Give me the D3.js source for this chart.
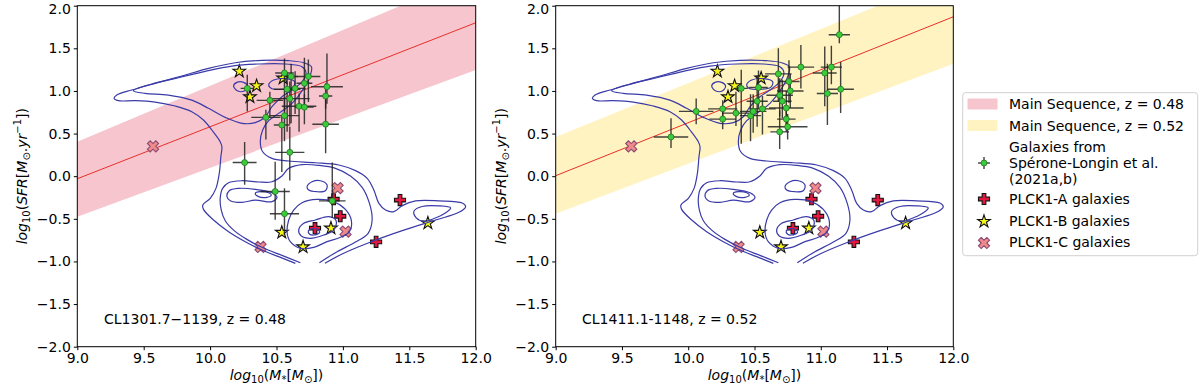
<!DOCTYPE html>
<html>
<head>
<meta charset="utf-8">
<script src="https://cdn.jsdelivr.net/npm/d3@7"></script>
<style>
  body { margin: 0; background: #fff; }
  text { font-family: "DejaVu Sans", sans-serif; }
</style>
</head>
<body>
<svg id="chart" width="1200" height="388"></svg>
<script>
// ---- data ----
const xTicks = [9.0, 9.5, 10.0, 10.5, 11.0, 11.5, 12.0];
const yTicks = [-2.0, -1.5, -1.0, -0.5, 0.0, 0.5, 1.0, 1.5, 2.0];

// main sequence [mass, lower, mid, upper]
const msLeft  = [[9, -0.475, -0.03, 0.405], [12, 1.246, 1.80, 2.37]];
const msRight = [[9, -0.44, 0.006, 0.46], [12, 1.32, 1.87, 2.36]];

// Sperone-Longin galaxies [mass, sfr, xerr, yerr-, yerr+]
const greenLeft = [
  [10.28,1.03,0.05,0.27,0.16],[10.56,1.21,0.07,0.45,0.17],[10.61,1.17,0.05,0.55,0.15],
  [10.74,1.17,0.09,0.30,0.20],[10.58,1.02,0.10,0.50,0.20],[10.64,1.03,0.08,0.30,0.20],
  [10.71,1.09,0.06,0.30,0.30],[10.88,1.05,0.12,0.20,0.39],[10.87,0.94,0.05,0.15,0.15],
  [10.45,0.89,0.10,0.20,0.10],[10.60,0.91,0.15,0.30,0.20],[10.67,0.82,0.13,0.30,0.15],
  [10.71,0.81,0.07,0.20,0.15],[10.42,0.69,0.11,0.26,0.09],[10.56,0.71,0.11,0.30,0.20],
  [10.54,0.60,0.06,0.55,0.10],[10.87,0.61,0.10,0.34,0.30],[10.60,0.28,0.11,0.33,0.30],
  [10.26,0.16,0.09,0.26,0.24],[10.49,-0.18,0.11,0.33,0.35],[10.56,-0.44,0.11,0.25,0.30],
  [10.92,-0.29,0.10,0.20,0.45]
];
const greenRight = [
  [9.87,0.46,0.13,0.13,0.22],[10.06,0.76,0.13,0.15,0.15],[10.26,0.79,0.11,0.10,0.10],
  [10.26,0.67,0.10,0.12,0.12],[10.36,0.74,0.10,0.15,0.25],[10.40,1.03,0.05,0.65,0.22],
  [10.47,0.71,0.08,0.30,0.25],[10.49,0.76,0.10,0.25,0.20],[10.52,0.88,0.08,0.30,0.30],
  [10.53,1.04,0.07,0.25,0.20],[10.56,0.79,0.10,0.30,0.15],[10.68,1.20,0.10,0.32,0.30],
  [10.69,0.95,0.10,0.25,0.20],[10.71,0.88,0.07,0.20,0.25],[10.76,1.11,0.08,0.25,0.25],
  [10.77,1.00,0.10,0.20,0.20],[10.74,0.80,0.13,0.20,0.20],[10.74,0.67,0.07,0.15,0.15],
  [10.75,0.58,0.15,0.15,0.15],[10.69,0.52,0.07,0.20,0.25],[10.85,1.28,0.10,0.25,0.26],
  [11.03,1.21,0.09,0.39,0.31],[11.08,1.28,0.08,0.20,0.25],[11.05,0.97,0.08,0.37,0.35],
  [11.15,1.02,0.10,0.28,0.32],[11.14,1.66,0.08,0.10,0.40]
];

// PLCK1 galaxies [mass, sfr]
const plckA = [[11.43,-0.28],[10.98,-0.47],[10.79,-0.61],[11.25,-0.77],[10.93,-0.27]];
const plckB = [[10.22,1.23],[10.35,1.06],[10.30,0.93],[10.55,1.15],[10.54,-0.66],[10.70,-0.83],[10.91,-0.61],[11.64,-0.55]];
const plckC = [[9.57,0.35],[10.96,-0.14],[11.02,-0.65],[10.38,-0.83]];

// density contours of PLCK1 (open ones end at the grid edge)
const contourOuter = [
  [10.642,-1.022],[10.516,-0.944],[10.391,-0.866],[10.265,-0.768],[10.139,-0.651],[10.026,-0.514],
  [9.950,-0.389],[9.945,-0.338],[10.001,-0.260],[10.044,-0.143],[10.069,0.033],[10.081,0.229],
  [10.089,0.346],[10.076,0.405],[10.013,0.542],[9.950,0.659],[9.862,0.757],[9.737,0.823],
  [9.586,0.870],[9.435,0.886],[9.309,0.886],[9.277,0.913],[9.297,0.952],[9.410,1.011],
  [9.586,1.089],[9.787,1.175],[9.988,1.265],[10.189,1.331],[10.391,1.359],[10.592,1.355],
  [10.705,1.331],[10.763,1.284],[10.755,1.187],[10.705,1.030],[10.617,0.854],[10.516,0.737],
  [10.441,0.651],[10.396,0.542],[10.378,0.405],[10.396,0.287],[10.466,0.209],[10.592,0.178],
  [10.793,0.158],[10.969,0.131],[11.095,0.065],[11.183,-0.025],[11.233,-0.162],[11.271,-0.319],
  [11.321,-0.397],[11.384,-0.416],[11.447,-0.345],[11.547,-0.290],[11.723,-0.290],[11.899,-0.315],
  [11.924,-0.360],[11.874,-0.424],[11.698,-0.514],[11.447,-0.639],[11.195,-0.780],[10.994,-0.912],
  [10.865,-1.022]
];
const contourBottom = [
  [10.680,-1.015],[10.541,-0.929],[10.403,-0.843],[10.277,-0.741],[10.177,-0.632],[10.114,-0.522],
  [10.084,-0.397],[10.076,-0.260],[10.094,-0.143],[10.139,-0.076],[10.240,-0.053],[10.365,-0.068],
  [10.466,-0.065],[10.541,0.002],[10.592,0.092],[10.692,0.135],[10.818,0.127],[10.944,0.092],
  [11.057,0.002],[11.145,-0.131],[11.200,-0.319],[11.220,-0.514],[11.190,-0.670],[11.095,-0.772],
  [10.956,-0.886],[10.823,-1.015]
];
const contourLoops = [
  // upper lobe
  [[9.422,1.003],[9.561,1.081],[9.762,1.155],[9.963,1.230],[10.164,1.292],[10.365,1.316],[10.567,1.316],
   [10.692,1.284],[10.722,1.214],[10.692,1.108],[10.617,1.011],[10.541,0.933],[10.466,0.815],[10.416,0.698],
   [10.340,0.628],[10.240,0.620],[10.114,0.690],[9.988,0.796],[9.862,0.893],[9.686,0.952],[9.510,0.972]],
  [[10.177,1.058],[10.202,1.101],[10.252,1.101],[10.282,1.058],[10.260,1.003],[10.209,0.999]],
  [[10.441,1.069],[10.479,1.128],[10.567,1.144],[10.637,1.108],[10.622,1.042],[10.541,1.019],[10.466,1.026]],
  // lower region
  [[10.127,-0.240],[10.144,-0.170],[10.215,-0.143],[10.340,-0.154],[10.466,-0.194],[10.504,-0.248],
   [10.466,-0.299],[10.340,-0.280],[10.240,-0.307],[10.152,-0.287]],
  [[10.340,-0.201],[10.378,-0.182],[10.441,-0.194],[10.461,-0.221],[10.428,-0.248],[10.365,-0.240]],
  [[10.730,-0.123],[10.768,-0.065],[10.831,-0.053],[10.881,-0.104],[10.868,-0.170],[10.805,-0.182],[10.743,-0.162]],
  [[10.579,-0.651],[10.592,-0.514],[10.629,-0.397],[10.692,-0.311],[10.805,-0.272],[10.931,-0.299],
   [11.019,-0.389],[11.064,-0.522],[11.049,-0.651],[10.981,-0.717],[10.881,-0.768],[10.780,-0.835],
   [10.680,-0.846],[10.604,-0.768]],
  [[10.667,-0.632],[10.705,-0.553],[10.793,-0.514],[10.893,-0.475],[10.949,-0.522],[10.931,-0.632],
   [10.856,-0.690],[10.755,-0.729],[10.687,-0.702]],
  [[10.74,-0.64],[10.77,-0.615],[10.81,-0.625],[10.825,-0.66],[10.78,-0.69],[10.75,-0.68]],
  [[11.535,-0.410],[11.597,-0.355],[11.723,-0.348],[11.811,-0.372],[11.774,-0.430],[11.673,-0.505],
   [11.610,-0.530],[11.552,-0.488]]
];

const legendItems = ['Main Sequence, z = 0.48', 'Main Sequence, z = 0.52',
  ['Galaxies from', 'Spérone-Longin et al.', '(2021a,b)'],
  'PLCK1-A galaxies', 'PLCK1-B galaxies', 'PLCK1-C galaxies'];

// ---- style ----
const colPink = '#f6c5ce', colGold = '#fff3c2';
const colMS = '#e8302a', colContour = '#3b3ba8';
const colGreen = '#3ccb3c', colA = '#e3173f', colB = '#f5f51a', colC = '#f08a8a';

const svg = d3.select('#chart');
const plotTop = 5.7, plotBottom = 346.7;

const plus = d3.symbol().type(d3.symbolCross).size(68);
const star = d3.symbol().type(d3.symbolStar).size(50);
const cross = d3.symbol().type(d3.symbolCross).size(78);

function drawMarkers(g, x, y, data, path, fill, stroke, rot) {
  g.selectAll(null).data(data).enter().append('path')
    .attr('d', path)
    .attr('transform', d => `translate(${x(d[0])},${y(d[1])}) rotate(${rot})`)
    .attr('fill', fill).attr('stroke', stroke).attr('stroke-width', 1.1);
}

function drawPanel(id, x0, x1, ms, bandCol, greens, title, titleX) {
  const x = d3.scaleLinear().domain([9, 12]).range([x0, x1]);
  const y = d3.scaleLinear().domain([-2, 2]).range([plotBottom, plotTop]);
  const g = svg.append('g');

  svg.append('clipPath').attr('id', id)
    .append('rect').attr('x', x0).attr('y', plotTop).attr('width', x1 - x0).attr('height', plotBottom - plotTop);
  const plot = g.append('g').attr('clip-path', `url(#${id})`);

  // main sequence band + line
  plot.append('path').datum(ms)
    .attr('d', d3.area().x(d => x(d[0])).y0(d => y(d[1])).y1(d => y(d[3])))
    .attr('fill', bandCol);
  plot.append('path').datum(ms)
    .attr('d', d3.line().x(d => x(d[0])).y(d => y(d[2])))
    .attr('stroke', colMS).attr('stroke-width', 1).attr('fill', 'none');

  // PLCK1 galaxies
  drawMarkers(plot, x, y, plckA, plus(), colA, '#111', 0);
  drawMarkers(plot, x, y, plckB, star(), colB, '#111', 0);
  drawMarkers(plot, x, y, plckC, cross(), colC, '#8a4a70', 45);

  // contours
  const openLine = d3.line().x(d => x(d[0])).y(d => y(d[1])).curve(d3.curveCatmullRom);
  const closedLine = d3.line().x(d => x(d[0])).y(d => y(d[1])).curve(d3.curveCatmullRomClosed);
  [contourOuter, contourBottom].forEach(c => plot.append('path').attr('d', openLine(c))
    .attr('fill', 'none').attr('stroke', colContour).attr('stroke-width', 1.2));
  contourLoops.forEach(c => plot.append('path').attr('d', closedLine(c))
    .attr('fill', 'none').attr('stroke', colContour).attr('stroke-width', 1.2));

  // error bars + points
  const eb = plot.append('g').attr('stroke', '#222').attr('stroke-opacity', 0.85).attr('stroke-width', 1.4);
  eb.selectAll(null).data(greens).enter().append('line')
    .attr('x1', d => x(d[0] - d[2])).attr('x2', d => x(d[0] + d[2]))
    .attr('y1', d => y(d[1])).attr('y2', d => y(d[1]));
  eb.selectAll(null).data(greens).enter().append('line')
    .attr('x1', d => x(d[0])).attr('x2', d => x(d[0]))
    .attr('y1', d => y(d[1] - d[3])).attr('y2', d => y(d[1] + d[4]));
  plot.selectAll(null).data(greens).enter().append('circle')
    .attr('cx', d => x(d[0])).attr('cy', d => y(d[1])).attr('r', 3)
    .attr('fill', colGreen).attr('stroke', '#1a6a1a').attr('stroke-width', 0.7);

  // axes
  const fmt = d3.format('.1f');
  const xa = g.append('g').attr('transform', `translate(0,${plotBottom})`)
    .call(d3.axisBottom(x).tickValues(xTicks).tickFormat(fmt).tickSize(3.5).tickPadding(3));
  const ya = g.append('g').attr('transform', `translate(${x0},0)`)
    .call(d3.axisLeft(y).tickValues(yTicks).tickFormat(fmt).tickSize(3.5).tickPadding(3));
  [xa, ya].forEach(a => {
    a.select('.domain').remove();
    a.selectAll('text').attr('font-size', 14).attr('fill', '#000').attr('font-family', 'DejaVu Sans');
    a.selectAll('line').attr('stroke', '#000');
  });
  // keep the top label inside the page
  ya.selectAll('.tick').filter(d => d === 2).select('text').attr('dy', '0.55em');
  g.append('rect').attr('x', x0).attr('y', plotTop).attr('width', x1 - x0).attr('height', plotBottom - plotTop)
    .attr('fill', 'none').attr('stroke', '#000').attr('stroke-width', 1);

  g.append('text').attr('x', titleX).attr('y', 324).attr('font-size', 14).text(title);

  // axis labels (mathtext style)
  const xl = g.append('text').attr('x', (x0 + x1) / 2).attr('y', 380)
    .attr('text-anchor', 'middle').attr('font-size', 14);
  xl.append('tspan').attr('font-style', 'italic').text('log');
  xl.append('tspan').attr('font-size', 10).attr('dy', 3).text('10');
  xl.append('tspan').attr('dy', -3).text('(');
  xl.append('tspan').attr('font-style', 'italic').text('M');
  xl.append('tspan').attr('font-size', 10).attr('dy', 3).text('*');
  xl.append('tspan').attr('dy', -3).text('[');
  xl.append('tspan').attr('font-style', 'italic').text('M');
  xl.append('tspan').attr('font-size', 10).attr('dy', 3).text('⊙');
  xl.append('tspan').attr('dy', -3).text('])');

  const yl = g.append('text')
    .attr('transform', `translate(${x0 - 50},${(plotTop + plotBottom) / 2}) rotate(-90)`)
    .attr('text-anchor', 'middle').attr('font-size', 14);
  yl.append('tspan').attr('font-style', 'italic').text('log');
  yl.append('tspan').attr('font-size', 10).attr('dy', 3).text('10');
  yl.append('tspan').attr('dy', -3).text('(');
  yl.append('tspan').attr('font-style', 'italic').text('SFR');
  yl.append('tspan').text('[');
  yl.append('tspan').attr('font-style', 'italic').text('M');
  yl.append('tspan').attr('font-size', 10).attr('dy', 3).text('⊙');
  yl.append('tspan').attr('dy', -3).text('.');
  yl.append('tspan').attr('font-style', 'italic').text('yr');
  yl.append('tspan').attr('font-size', 10).attr('dy', -6).text('−1');
  yl.append('tspan').attr('dy', 6).text('])');
}

drawPanel('clipL', 77.3, 475.7, msLeft, colPink, greenLeft, 'CL1301.7−1139, z = 0.48', 104);
drawPanel('clipR', 555.7, 953.3, msRight, colGold, greenRight, 'CL1411.1-1148, z = 0.52', 582);

// ---- legend ----
const lg = svg.append('g');
lg.append('rect').attr('x', 962.7).attr('y', 92.7).attr('width', 235).attr('height', 163)
  .attr('rx', 3).attr('fill', '#fff').attr('stroke', '#d0d0d0').attr('stroke-width', 1);
lg.append('rect').attr('x', 967.5).attr('y', 98.5).attr('width', 30).attr('height', 11).attr('fill', colPink);
lg.append('rect').attr('x', 967.5).attr('y', 120).attr('width', 30).attr('height', 11).attr('fill', colGold);
const mx = 984, tx = 1009;
lg.append('line').attr('x1', mx - 6).attr('x2', mx + 6).attr('y1', 163).attr('y2', 163)
  .attr('stroke', '#222').attr('stroke-width', 1.2);
lg.append('line').attr('x1', mx).attr('x2', mx).attr('y1', 157).attr('y2', 169)
  .attr('stroke', '#222').attr('stroke-width', 1.2);
lg.append('circle').attr('cx', mx).attr('cy', 163).attr('r', 3)
  .attr('fill', colGreen).attr('stroke', '#1a6a1a').attr('stroke-width', 0.7);
lg.append('path').attr('d', plus()).attr('transform', `translate(${mx},199)`)
  .attr('fill', colA).attr('stroke', '#111').attr('stroke-width', 1.1);
lg.append('path').attr('d', star()).attr('transform', `translate(${mx},221.5)`)
  .attr('fill', colB).attr('stroke', '#111').attr('stroke-width', 1.1);
lg.append('path').attr('d', cross()).attr('transform', `translate(${mx},243) rotate(45)`)
  .attr('fill', colC).attr('stroke', '#8a4a70').attr('stroke-width', 1.1);

const rowY = [109, 130.5, null, 204, 225.5, 247];
legendItems.forEach((t, i) => {
  if (Array.isArray(t)) {
    t.forEach((s, j) => lg.append('text').attr('x', tx).attr('y', 152 + j * 16).attr('font-size', 14).text(s));
  } else {
    lg.append('text').attr('x', tx).attr('y', rowY[i]).attr('font-size', 14).text(t);
  }
});
</script>
</body>
</html>
